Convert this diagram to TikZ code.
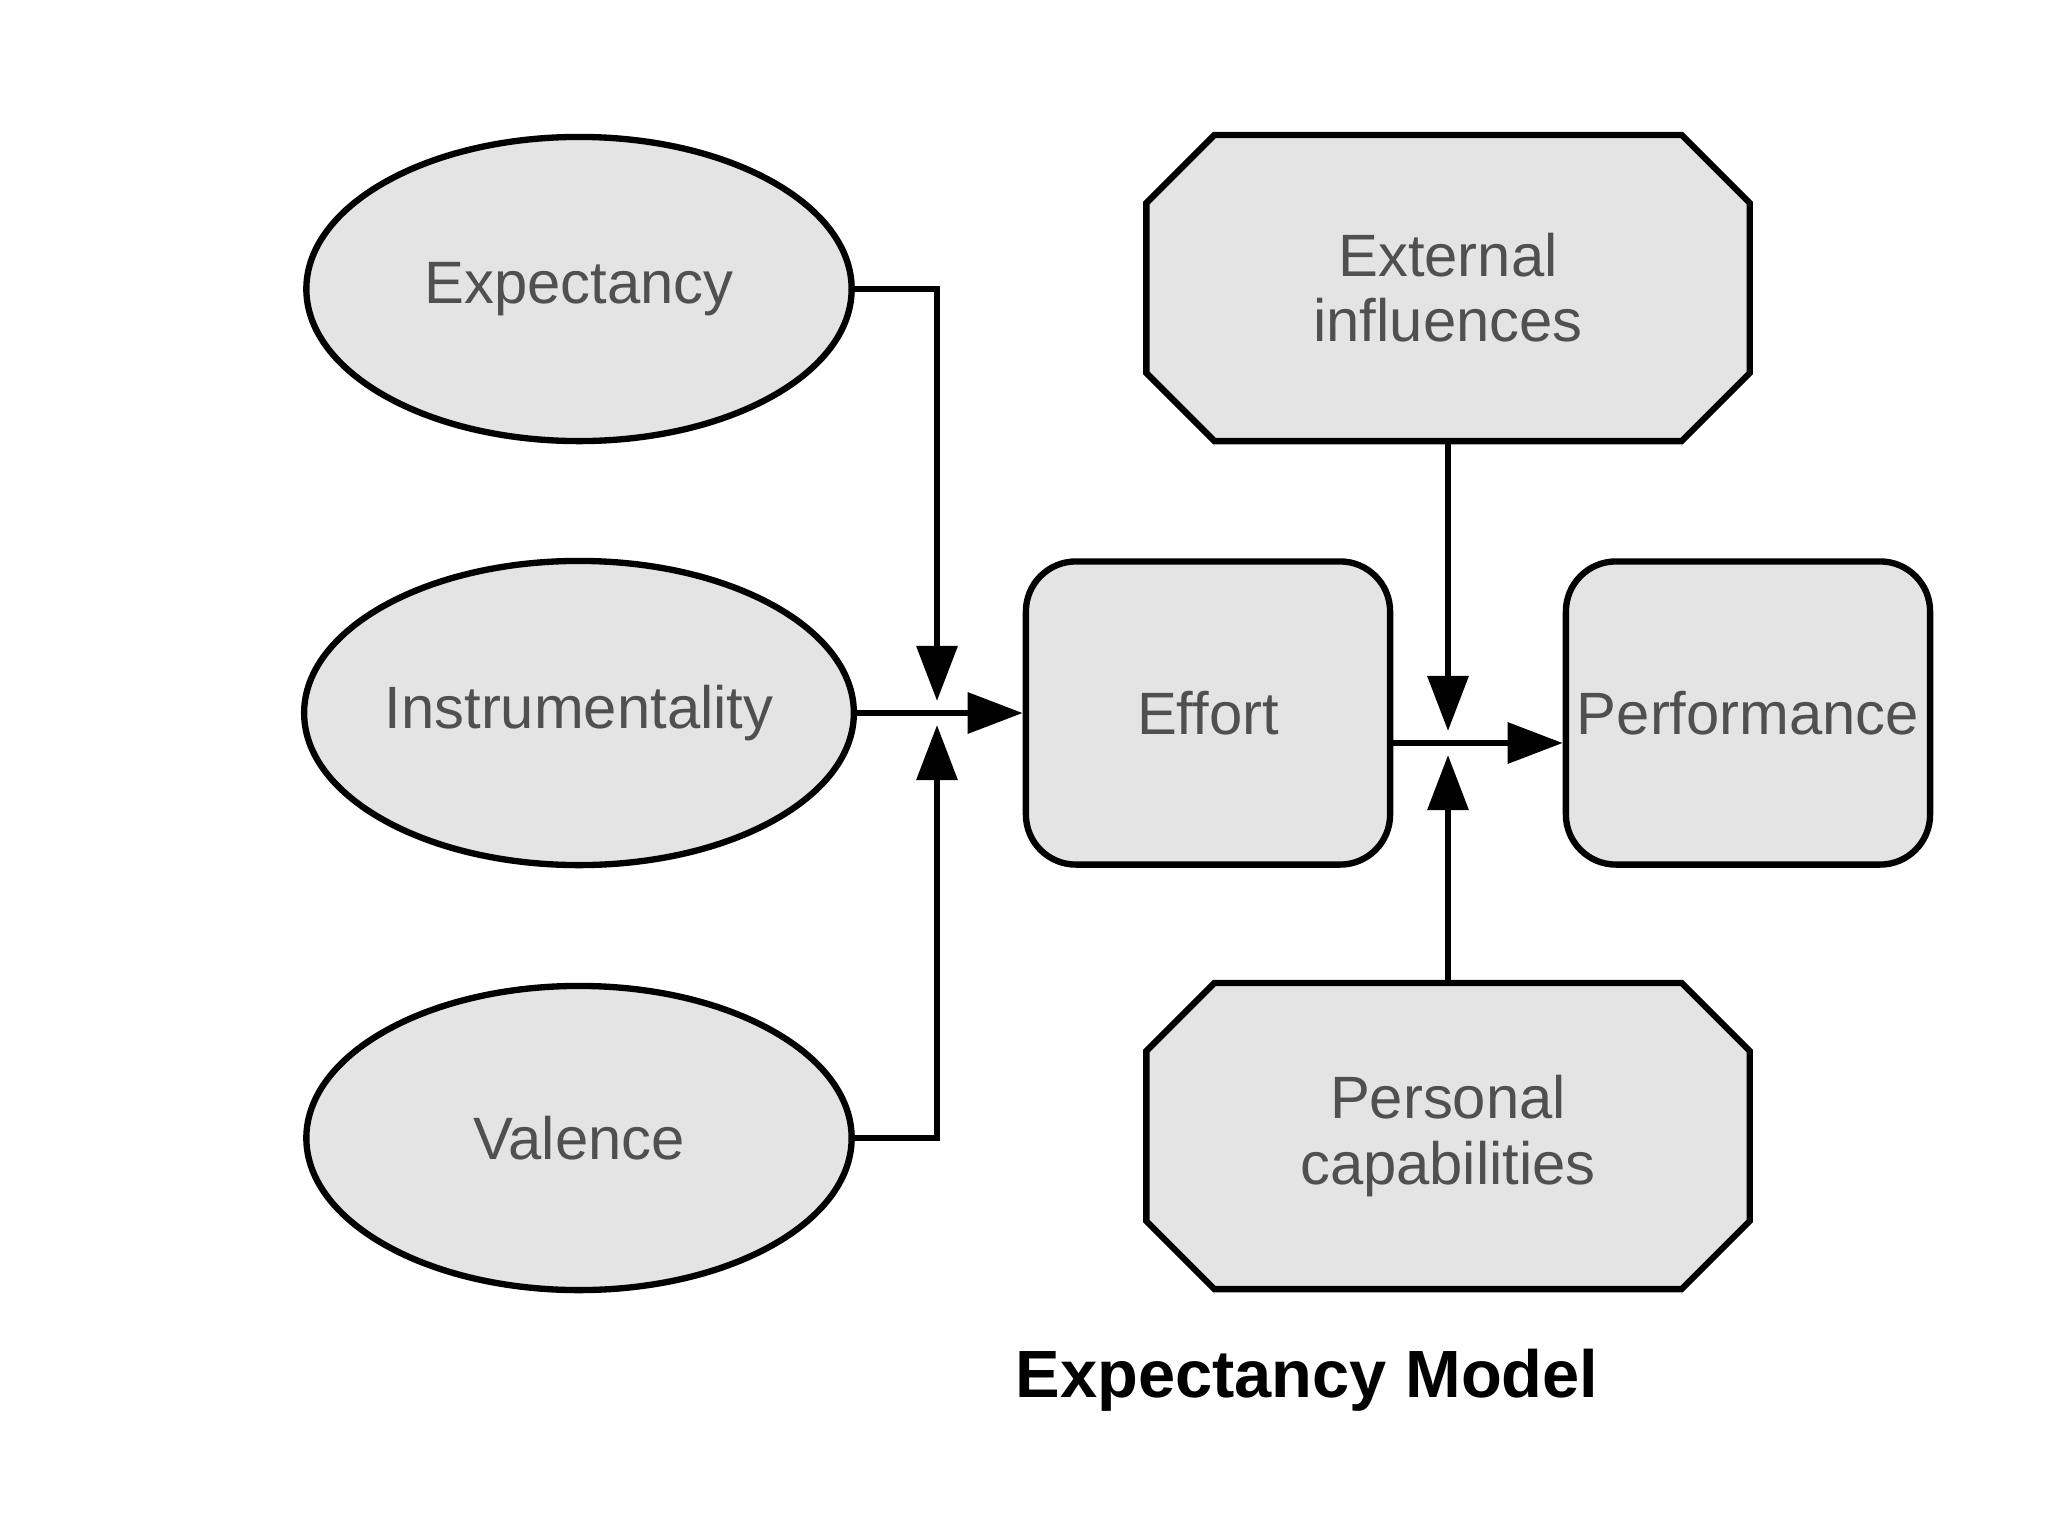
\documentclass[tikz,border=0pt]{standalone}
\usepackage{fontspec}
\setmainfont{Liberation Sans}
\usepackage{xcolor}
\usepackage{tikz}
\usetikzlibrary{arrows.meta,positioning,calc,shapes.geometric,shapes.misc}

\definecolor{boxgray}{HTML}{E4E4E4}
\definecolor{labelgray}{HTML}{505050}

\begin{document}
\begin{tikzpicture}[x=0.01cm,y=-0.01cm,
  shaded box/.style={draw=black,fill=boxgray,line width=1.8pt,text=labelgray,
    font=\fontsize{17}{18.5}\selectfont,align=center},
  factor/.style={shaded box,ellipse,minimum width=5.45cm,minimum height=3.04cm,inner sep=0pt},
  stage/.style={shaded box,rectangle,rounded corners=0.5cm,minimum width=3.64cm,minimum height=3.03cm,inner sep=0pt},
  influence/.style={shaded box,chamfered rectangle,chamfered rectangle xsep=0.34cm,
    chamfered rectangle ysep=0.34cm,minimum width=6.03cm,minimum height=3.06cm},
  link/.style={line width=1.8pt,-{Triangle[length=0.55cm,width=0.4cm]}}]
  \useasboundingbox (0,0) rectangle (2048,1536);

  % the three factors
  \node[factor] (expect) at (579,289) {Expectancy};
  \node[factor] (instr) at (579,713) {Instrumentality};
  \node[factor] (valence) at (579,1138) {Valence};

  \node[stage] (effort) at (1208,713) {Effort};
  \node[stage] (perf) at (1748,713) {Performance};
  \node[influence] (extern) at (1448,288) {External\\influences};
  \node[influence] (capab) at (1448,1136) {Personal\\capabilities};

  \coordinate (join1) at (937,713);
  \coordinate (join2) at (1448,743);

  % arrows into effort
  \draw[link,shorten >=0.12cm] (expect.east) -| (join1);
  \draw[link,shorten >=0.12cm] (valence.east) -| (join1);
  \draw[link] (instr.east) -- (effort.west);

  % arrows into performance
  \draw[link,shorten >=0.12cm] (extern.south) -- (join2);
  \draw[link,shorten >=0.12cm] (capab.north) -- (join2);
  \draw[link] (effort.east |- join2) -- (perf.west |- join2);

  \node[font=\bfseries\fontsize{19}{22}\selectfont] (title) at (1307,1380) {Expectancy Model};
\end{tikzpicture}
\end{document}
